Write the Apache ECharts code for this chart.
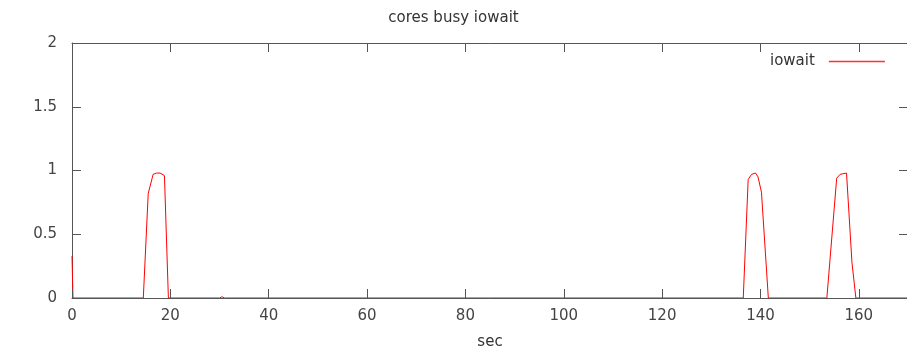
<!DOCTYPE html>
<html>
<head>
<meta charset="utf-8">
<script src="https://cdn.jsdelivr.net/npm/echarts@6/dist/echarts.min.js"></script>
<style>
  html, body { margin: 0; padding: 0; background: #fff; }
  #chart { width: 907px; height: 347px; }
</style>
</head>
<body>
<div id="chart"></div>
<script>
// iowait samples (sec, cores busy)
const times = [0, 0.2, 14.5, 15.5, 16.5, 17.2, 17.9, 18.8, 19.6,
  30.0, 30.5, 31.0,
  136.5, 137.5, 138.2, 139.0, 139.5, 140.2, 141.6,
  153.5, 155.5, 156.2, 157.5, 158.6, 159.4, 170]
const iowait = [0.33, 0, 0, 0.82, 0.97, 0.98, 0.98, 0.96, 0,
  0, 0.01, 0,
  0, 0.93, 0.97, 0.98, 0.95, 0.83, 0,
  0, 0.94, 0.97, 0.98, 0.28, 0, 0]
const xTicks = [0, 20, 40, 60, 80, 100, 120, 140, 160]
const yTicks = [0, 0.5, 1, 1.5, 2]

const FONT = 'DejaVu Sans'
const axisColor = '#555'

const chart = echarts.init(document.getElementById('chart'))

const tickStyle = { show: true, inside: true, length: 9, lineStyle: { color: axisColor } }

chart.setOption({
  animation: false,
  title: {
    text: 'cores busy iowait',
    left: 'center',
    top: 6,
    textStyle: { fontFamily: FONT, fontSize: 15, fontWeight: 'normal', color: '#333' }
  },
  legend: {
    left: 765,
    top: 49,
    align: 'right',
    itemWidth: 56,
    itemHeight: 1.5,
    textStyle: { fontFamily: FONT, fontSize: 15, color: '#333', padding: [0, 9, 0, 0] },
    data: [{
      name: 'iowait',
      icon: 'rect',
      itemStyle: { color: '#ff3030', borderWidth: 0, opacity: 1 }
    }]
  },
  grid: { left: 72, top: 43, width: 836, height: 255, outerBoundsMode: 'none', containLabel: false },
  xAxis: [{
    type: 'value',
    min: 0,
    max: 170,
    interval: 20,
    z: 5,
    name: 'sec',
    nameLocation: 'middle',
    nameGap: 37,
    nameTextStyle: { fontFamily: FONT, fontSize: 15, color: '#333' },
    axisLine: { show: true, onZero: false, lineStyle: { color: axisColor } },
    axisTick: tickStyle,
    splitLine: { show: false },
    axisLabel: {
      margin: 11,
      fontFamily: FONT, fontSize: 15, color: '#444',
      formatter: v => xTicks.includes(v) ? String(v) : ''
    }
  }, {
    type: 'value',
    position: 'top',
    min: 0,
    max: 170,
    interval: 20,
    z: 5,
    axisLine: { show: true, onZero: false, lineStyle: { color: axisColor } },
    axisTick: tickStyle,
    splitLine: { show: false },
    axisLabel: { show: false }
  }],
  yAxis: [{
    type: 'value',
    min: 0,
    max: 2,
    interval: 0.5,
    z: 1,
    axisLine: { show: true, onZero: false, lineStyle: { color: axisColor } },
    axisTick: tickStyle,
    splitLine: { show: false },
    axisLabel: {
      margin: 15,
      fontFamily: FONT, fontSize: 15, color: '#444',
      formatter: v => yTicks.includes(v) ? String(v) : ''
    }
  }, {
    type: 'value',
    position: 'right',
    min: 0,
    max: 2,
    interval: 0.5,
    z: 5,
    axisLine: { show: true, onZero: false, lineStyle: { color: axisColor } },
    axisTick: tickStyle,
    splitLine: { show: false },
    axisLabel: { show: false }
  }],
  series: [{
    name: 'iowait',
    type: 'line',
    showSymbol: false,
    symbol: 'none',
    itemStyle: { color: '#ff0000' },
    lineStyle: { width: 1, color: '#ff0000' },
    data: times.map((t, i) => [t, iowait[i]])
  }]
})

window.addEventListener('resize', () => chart.resize())
</script>
</body>
</html>
